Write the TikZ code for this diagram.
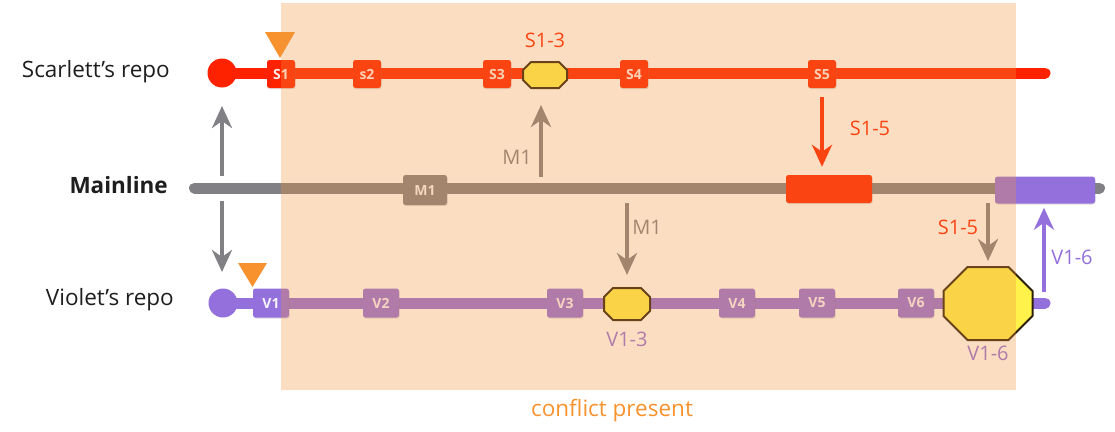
\documentclass[tikz,border=0pt]{standalone}
\usepackage{fontspec}
\setmainfont{Open Sans}
\usetikzlibrary{arrows.meta,shadows}

\definecolor{scarlet}{RGB}{255,34,0}
\definecolor{violetc}{RGB}{147,112,219}
\definecolor{mainc}{RGB}{128,128,133}
\definecolor{conflict}{RGB}{242,147,61}
\definecolor{marker}{RGB}{247,146,46}
\definecolor{mergefill}{RGB}{255,242,75}
\definecolor{mergeedge}{RGB}{45,30,10}
\definecolor{labeltext}{RGB}{30,30,30}

\newcommand\fsz[1]{\fontsize{#1}{#1}\selectfont}

% octagonal merge marker drawn around a (invisible) rectangular node
\newcommand\mergeoct[2]{%
  \filldraw[fill=mergefill, draw=mergeedge, line width=2pt, line join=round]
    ([xshift=#2]#1.north west) -- ([xshift=-#2]#1.north east)
    -- ([yshift=-#2]#1.north east) -- ([yshift=#2]#1.south east)
    -- ([xshift=-#2]#1.south east) -- ([xshift=#2]#1.south west)
    -- ([yshift=#2]#1.south west) -- ([yshift=-#2]#1.north west) -- cycle;}

\pgfdeclarelayer{tracks}
\pgfdeclarelayer{veil}
\pgfsetlayers{tracks,main,veil}

\tikzset{
  track/.style={line width=11pt, line cap=round},
  repo/.style={circle, minimum size=29pt, inner sep=0pt},
  commit/.style={rectangle, rounded corners=2.5pt, inner sep=0pt,
    minimum width=28pt, minimum height=28pt, text=white, text opacity=0.92,
    font=\fsz{14}\bfseries,
    drop shadow={opacity=0.25, shadow xshift=0.6pt, shadow yshift=-1.2pt}},
  vcommit/.style={commit, fill=violetc, minimum width=36pt, minimum height=29pt},
  scommit/.style={commit, fill=scarlet},
  mergebox/.style={rectangle, inner sep=0pt, outer sep=0pt},
  flow/.style={line width=4pt, -{Stealth[length=22pt, width=20pt, inset=7pt]}},
  tag/.style={font=\fsz{20}, inner sep=0pt},
  repolabel/.style={font=\fsz{22.5}, text=labeltext, inner sep=0pt, anchor=east},
}

\begin{document}
\begin{tikzpicture}[x=1pt, y=-1pt]
\useasboundingbox (0,0) rectangle (1115,431);

% --- repository labels
\node[repolabel] (lblS) at (170,72) {Scarlett’s repo};
\node[repolabel, font=\fsz{22.5}\bfseries] (lblM) at (168,185) {Mainline};
\node[repolabel] (lblV) at (174,300) {Violet’s repo};

% --- Scarlett's repo
\node[repo, fill=scarlet] (sc0) at (222,73) {};
\coordinate (scEnd) at (1045,73);
\node[scommit] (s1) at (281,74) {S1};
\node[scommit] (s2) at (367,74) {s2};
\node[scommit] (s3) at (497,74) {S3};
\node[scommit] (s4) at (634,74) {S4};
\node[scommit] (s5) at (822,74) {S5};
\node[mergebox, minimum width=44pt, minimum height=26pt] (o13) at (545,75) {};
\mergeoct{o13}{8pt}
\node[tag, text=scarlet] (t13) at (545,40) {S1-3};

% --- Mainline
\coordinate (mlStart) at (194.5,188);
\coordinate (mlEnd) at (1099.5,188);
\node[commit, fill=mainc, minimum width=44pt, minimum height=30pt] (m1) at (425,190) {M1};
\node[commit, fill=scarlet, minimum width=86pt, minimum height=28pt] (mlS) at (829,189) {};
\node[commit, fill=violetc, minimum width=100pt, minimum height=27pt] (mlV) at (1045,190) {};

% --- Violet's repo
\node[repo, fill=violetc] (vi0) at (223,303) {};
\coordinate (viEnd) at (1045,303);
\node[vcommit] (v1) at (271,303) {V1};
\node[vcommit] (v2) at (381,303) {V2};
\node[vcommit] (v3) at (565,303) {V3};
\node[vcommit] (v4) at (737,303) {V4};
\node[vcommit] (v5) at (817,303) {V5};
\node[vcommit] (v6) at (916,303) {V6};
\node[mergebox, minimum width=46pt, minimum height=32pt] (o23) at (627,304) {};
\mergeoct{o23}{9pt}
\node[mergebox, minimum width=89pt, minimum height=73pt] (o26) at (988,303.5) {};
\mergeoct{o26}{24pt}
\node[tag, text=violetc] (t23) at (627,339) {V1-3};
\node[tag, text=violetc] (t26) at (988,353) {V1-6};

% --- tracks underneath the commits
\begin{pgfonlayer}{tracks}
  \draw[track, scarlet] (sc0.center) -- (scEnd);
  \draw[track, mainc] (mlStart) -- (mlEnd);
  \draw[track, violetc] (vi0.center) -- (viEnd);
\end{pgfonlayer}

% --- branch start markers
\fill[marker] (265,32) -- (295,32) -- (280,58) -- cycle;
\fill[marker] (238,263) -- (267,263) -- (252.5,287) -- cycle;

% --- sync arrows
\coordinate (gUpTail) at (222,176);  \coordinate (gUpTip) at (222,106);
\coordinate (gDnTail) at (222,201);  \coordinate (gDnTip) at (222,272);
\draw[flow, mainc] (gUpTail) -- (gUpTip);
\draw[flow, mainc] (gDnTail) -- (gDnTip);

\coordinate (m1UpTail) at (541,177); \coordinate (m1UpTip) at (541,105);
\draw[flow, mainc] (m1UpTail) -- (m1UpTip);
\node[tag, text=mainc] (tm1a) at (517,157) {M1};

\coordinate (m1DnTail) at (627,203); \coordinate (m1DnTip) at (627,275);
\draw[flow, mainc] (m1DnTail) -- (m1DnTip);
\node[tag, text=mainc] (tm1b) at (647,227) {M1};

\coordinate (s5Tail) at ([yshift=-9pt]s5.south);
\draw[flow, scarlet] (s5Tail) -- ([yshift=8pt]mlS.north -| s5Tail);
\node[tag, text=scarlet] (ts15a) at (870,128) {S1-5};

\coordinate (s15Tail) at (988,203); \coordinate (s15Tip) at (988,261);
\draw[flow, mainc] (s15Tail) -- (s15Tip);
\node[tag, text=scarlet] (ts15b) at (958,227) {S1-5};

\coordinate (v16Tail) at (1044,292);
\draw[flow, violetc] (v16Tail) -- ([yshift=-4pt]mlV.south -| v16Tail);
\node[tag, text=violetc] (tv16) at (1072,257) {V1-6};

% --- conflict window
\begin{pgfonlayer}{veil}
  \fill[conflict, fill opacity=0.315] (281,3) rectangle (1016,390);
\end{pgfonlayer}
\node[font=\fsz{22.5}, text=marker, inner sep=0pt] (zoneLbl) at (612,411) {conflict present};

\end{tikzpicture}
\end{document}
